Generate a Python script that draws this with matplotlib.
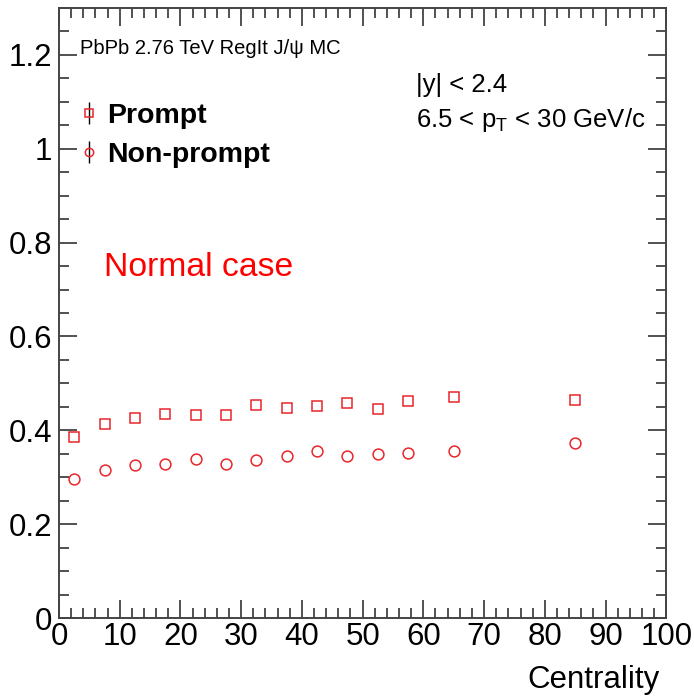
import numpy as np
import matplotlib
matplotlib.use("Agg")
import matplotlib.pyplot as plt
from matplotlib.lines import Line2D
from matplotlib.legend_handler import HandlerTuple
from matplotlib.ticker import MultipleLocator, FormatStrFormatter

plt.rcParams['font.family'] = ['Liberation Sans', 'DejaVu Sans']
plt.rcParams['mathtext.fontset'] = 'custom'
plt.rcParams['mathtext.rm'] = 'Liberation Sans'
plt.rcParams['mathtext.it'] = 'Liberation Sans:italic'

# centrality bin centres (%)
centrality = [2.5, 7.5, 12.5, 17.5, 22.5, 27.5, 32.5, 37.5, 42.5, 47.5,
              52.5, 57.5, 65.0, 85.0]
prompt = [0.386, 0.413, 0.426, 0.434, 0.432, 0.432, 0.453, 0.447, 0.451,
          0.458, 0.445, 0.462, 0.470, 0.464]
nonprompt = [0.296, 0.316, 0.325, 0.328, 0.338, 0.328, 0.336, 0.345, 0.355,
             0.345, 0.349, 0.352, 0.355, 0.374]

red = '#e8262b'

fig = plt.figure(figsize=(6.94, 6.98), dpi=100)
ax = fig.add_axes([0.085, 0.1146, 0.875, 0.874])

ax.plot(centrality, prompt, ls='none', marker='s', ms=7.8, mfc='none',
        mec=red, mew=1.1)
ax.plot(centrality, nonprompt, ls='none', marker='o', ms=7.8, mfc='none',
        mec=red, mew=1.1)

ax.set_xlim(0, 100)
ax.set_ylim(0, 1.3)
ax.xaxis.set_major_locator(MultipleLocator(10))
ax.xaxis.set_minor_locator(MultipleLocator(2))
ax.yaxis.set_major_locator(MultipleLocator(0.2))
ax.yaxis.set_minor_locator(MultipleLocator(0.05))
ax.yaxis.set_major_formatter(FormatStrFormatter('%g'))
ax.tick_params(which='both', direction='in', top=True, right=True,
               labelsize=22.5, color='#333333', width=1.2)
ax.tick_params(which='major', length=13)
ax.tick_params(which='minor', length=7)
ax.tick_params(axis='y', which='major', pad=5)
ax.tick_params(axis='x', which='major', pad=3)
for s in ax.spines.values():
    s.set_linewidth(1.4)
    s.set_color('#444444')

fig.text(0.951, 0.026, 'Centrality', ha='right', va='center', fontsize=22.5)

ax.text(0.035, 0.934, r'PbPb 2.76 TeV RegIt J/ψ MC', transform=ax.transAxes,
        ha='left', va='center', fontsize=14.5)
ax.text(0.588, 0.874, '|y| < 2.4', transform=ax.transAxes,
        ha='left', va='center', fontsize=18.5)
ax.text(0.588, 0.816, r'6.5 < p$_{\mathregular{T}}$ < 30 GeV/c',
        transform=ax.transAxes, ha='left', va='center', fontsize=18.5)
ax.text(0.074, 0.574, 'Normal case', transform=ax.transAxes,
        ha='left', va='center', fontsize=24.3, color='red')

# legend entries: marker with a vertical error-bar stroke
bar = Line2D([], [], ls='none', marker='|', ms=16, mew=1.0, color='black')
sq = Line2D([], [], ls='none', marker='s', ms=6, mfc='none', mec=red, mew=1.1)
ci = Line2D([], [], ls='none', marker='o', ms=6, mfc='none', mec=red, mew=1.1)
ax.legend([(bar, sq), (bar, ci)], ['Prompt', 'Non-prompt'],
          handler_map={tuple: HandlerTuple(ndivide=1)},
          loc='center left', bbox_to_anchor=(0.012, 0.791), frameon=False,
          prop={'weight': 'bold', 'size': 20.5}, handlelength=0.8,
          handletextpad=0.25, labelspacing=0.45, borderaxespad=0.0)

fig.savefig('out.png', dpi=100)
